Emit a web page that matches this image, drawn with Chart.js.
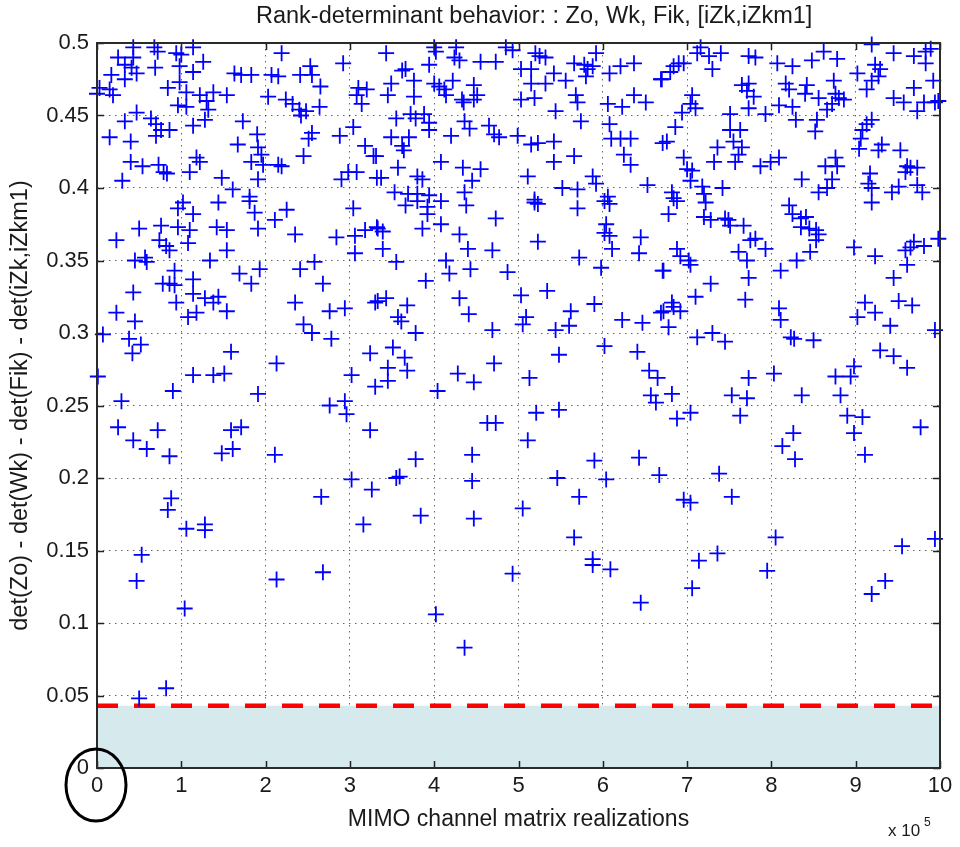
<!DOCTYPE html>
<html>
<head>
<meta charset="utf-8">
<script src="https://cdn.jsdelivr.net/npm/chart.js@4.4.0/dist/chart.umd.min.js"></script>
<style>
html, body { margin: 0; padding: 0; background: #fff; }
#wrap { position: relative; width: 960px; height: 847px; }
</style>
</head>
<body>
<div id="wrap"><canvas id="chart" width="960" height="847"></canvas></div>
<script>
// Realizations are in units of 10^5, values are the determinant gap
const xTickValues = [0, 1, 2, 3, 4, 5, 6, 7, 8, 9, 10];
const yTickValues = [0, 0.05, 0.1, 0.15, 0.2, 0.25, 0.3, 0.35, 0.4, 0.45, 0.5];
const thresholdLevel = 0.043;

// Scatter values
const upperLeft = [
    [0.43,0.497],[0.68,0.497],[0.72,0.494],[1.14,0.497],[0.25,0.49],[0.43,0.49],[0.94,0.493],[1.0,0.492],
    [1.26,0.487],[0.33,0.485],[0.41,0.483],[0.47,0.479],[0.69,0.483],[0.98,0.484],[1.14,0.48],[0.17,0.478],
    [0.33,0.475],[0.98,0.473],[1.63,0.479],[1.71,0.478],[1.83,0.478],[2.07,0.478],[2.19,0.493],[2.15,0.477],
    [2.41,0.478],[2.53,0.484],[2.55,0.478],[2.65,0.47],[2.92,0.486],[0.03,0.469],[0.15,0.468],[0.0,0.465],
    [0.19,0.464],[0.84,0.469],[1.06,0.466],[1.22,0.464],[1.38,0.466],[1.54,0.464],[1.3,0.46],[0.96,0.457],
    [1.06,0.456],[1.32,0.454],[2.03,0.463],[2.24,0.461],[2.32,0.458],[2.4,0.454],[2.48,0.453],[2.64,0.456],
    [2.42,0.45],[3.1,0.469],[3.2,0.468],[3.08,0.464],[3.14,0.458],[0.47,0.452],[0.33,0.446],[0.64,0.448],
    [0.7,0.444],[0.76,0.44],[0.86,0.44],[0.7,0.436],[1.28,0.447],[1.14,0.443],[1.73,0.446],[0.15,0.435],
    [0.4,0.432],[1.67,0.43],[1.9,0.437],[1.91,0.428],[1.95,0.423],[1.83,0.418],[1.97,0.416],[2.15,0.416],
    [2.19,0.415],[2.45,0.422],[2.55,0.438],[2.51,0.434],[2.88,0.436],[3.04,0.442],[3.18,0.429],[3.28,0.422],
    [1.18,0.421],[1.22,0.418],[1.1,0.411],[0.4,0.418],[0.54,0.415],[0.73,0.416],[0.79,0.411],[0.83,0.41],
    [0.3,0.405],[1.48,0.407],[1.61,0.399],[1.81,0.394],[1.91,0.406],[2.9,0.406],[2.98,0.411],[3.08,0.411],
    [3.32,0.407]
];
const upperMid = [
    [3.43,0.493],[4.0,0.497],[4.02,0.494],[4.26,0.497],[4.24,0.49],[3.94,0.485],[4.3,0.488],[4.55,0.487],
    [4.73,0.487],[4.85,0.497],[4.93,0.495],[5.03,0.482],[5.2,0.493],[5.25,0.491],[5.32,0.49],[5.15,0.482],
    [5.42,0.479],[5.66,0.486],[5.78,0.485],[5.82,0.482],[5.88,0.484],[5.8,0.477],[5.92,0.493],[5.56,0.474],
    [5.32,0.472],[5.15,0.472],[6.08,0.479],[6.21,0.484],[6.37,0.486],[6.69,0.475],[3.66,0.482],[3.62,0.481],
    [3.76,0.474],[3.49,0.472],[3.45,0.464],[3.76,0.463],[4.0,0.472],[4.06,0.47],[4.12,0.468],[4.22,0.474],
    [4.14,0.464],[4.47,0.471],[4.51,0.464],[4.33,0.461],[4.35,0.459],[4.47,0.461],[5.03,0.461],[5.19,0.462],
    [5.68,0.464],[5.7,0.459],[5.44,0.453],[5.74,0.446],[6.06,0.458],[6.23,0.456],[6.37,0.464],[6.51,0.459],
    [3.55,0.448],[3.72,0.451],[3.78,0.448],[3.88,0.451],[3.94,0.445],[3.94,0.44],[4.36,0.446],[4.42,0.441],
    [4.2,0.436],[4.65,0.443],[4.71,0.437],[4.77,0.435],[4.99,0.436],[5.15,0.43],[5.23,0.431],[5.42,0.432],
    [5.66,0.422],[5.42,0.418],[6.08,0.444],[6.1,0.434],[6.21,0.434],[6.33,0.434],[6.25,0.423],[6.33,0.416],
    [6.71,0.431],[3.49,0.435],[3.7,0.435],[3.62,0.429],[3.64,0.426],[3.31,0.422],[3.57,0.414],[3.37,0.407],
    [3.8,0.408],[3.86,0.406],[4.08,0.418],[4.34,0.414],[4.55,0.413],[4.45,0.405],[3.53,0.397],[3.69,0.396],
    [3.8,0.396],[3.94,0.395],[4.36,0.397],[5.11,0.408],[5.19,0.392],[5.52,0.4],[5.7,0.399],[5.88,0.408],
    [5.92,0.403],[6.06,0.394],[6.53,0.402]
];
const upperRight = [
    [7.16,0.497],[7.12,0.493],[7.26,0.491],[7.4,0.493],[7.3,0.482],[7.73,0.491],[7.81,0.49],[6.96,0.486],
    [6.84,0.484],[6.8,0.48],[6.9,0.486],[6.7,0.475],[8.07,0.486],[8.25,0.484],[8.48,0.488],[8.62,0.494],
    [8.78,0.489],[9.19,0.499],[9.23,0.485],[9.29,0.482],[9.27,0.477],[9.19,0.474],[9.02,0.479],[9.45,0.493],
    [9.69,0.491],[9.83,0.494],[9.89,0.496],[9.83,0.486],[9.92,0.474],[7.65,0.471],[7.73,0.472],[7.71,0.467],
    [7.79,0.463],[7.73,0.455],[8.17,0.472],[8.21,0.468],[8.42,0.471],[8.4,0.465],[8.56,0.462],[8.74,0.474],
    [8.76,0.465],[8.8,0.462],[8.86,0.461],[8.72,0.458],[8.66,0.454],[9.13,0.468],[9.69,0.469],[9.45,0.462],
    [9.57,0.459],[9.81,0.459],[9.94,0.459],[9.98,0.46],[9.73,0.453],[7.06,0.464],[7.04,0.458],[7.1,0.455],
    [6.94,0.452],[8.09,0.457],[8.25,0.456],[8.29,0.447],[7.93,0.451],[7.51,0.451],[8.54,0.447],[8.52,0.439],
    [6.86,0.442],[6.76,0.432],[7.51,0.44],[7.63,0.44],[7.55,0.432],[7.65,0.428],[7.36,0.428],[7.61,0.423],
    [7.32,0.418],[7.57,0.418],[7.87,0.415],[7.99,0.418],[8.09,0.421],[6.96,0.421],[7.0,0.413],[7.06,0.412],
    [7.04,0.405],[9.08,0.44],[9.13,0.444],[9.19,0.447],[9.06,0.434],[9.04,0.427],[9.31,0.43],[9.27,0.426],
    [9.53,0.426],[8.76,0.421],[8.64,0.415],[8.78,0.415],[8.72,0.406],[8.36,0.406],[8.66,0.4],[8.56,0.397],
    [9.17,0.41],[9.15,0.403],[9.19,0.4],[9.61,0.415],[9.65,0.414],[9.73,0.414],[9.59,0.411],[9.51,0.401],
    [9.43,0.397],[9.73,0.402],[9.79,0.397],[6.82,0.397],[7.18,0.401],[7.2,0.396],[7.42,0.4]
];
const midLeft = [
    [1.02,0.39],[0.96,0.386],[1.14,0.382],[1.44,0.39],[1.81,0.391],[1.87,0.383],[2.25,0.385],[2.11,0.378],
    [3.04,0.386],[0.76,0.374],[0.96,0.373],[1.1,0.371],[1.42,0.373],[1.54,0.371],[0.5,0.372],[1.91,0.372],
    [2.35,0.368],[2.84,0.366],[3.06,0.367],[3.18,0.371],[3.32,0.373],[0.23,0.364],[0.74,0.364],[0.82,0.36],
    [0.86,0.357],[1.08,0.362],[1.54,0.357],[3.06,0.355],[0.45,0.35],[0.57,0.352],[0.59,0.349],[1.34,0.35],
    [0.92,0.343],[0.78,0.334],[0.86,0.334],[0.92,0.333],[1.14,0.337],[1.14,0.327],[1.28,0.324],[1.38,0.321],
    [1.44,0.325],[1.54,0.315],[1.69,0.341],[1.83,0.334],[1.93,0.344],[2.41,0.344],[2.58,0.349],[2.68,0.334],
    [0.43,0.328],[0.94,0.321],[0.23,0.314],[0.45,0.308],[1.08,0.311],[1.18,0.314],[2.35,0.321],[2.45,0.306],
    [2.55,0.3],[2.76,0.315],[2.94,0.317],[3.3,0.321],[0.07,0.299],[0.38,0.296],[0.52,0.292],[0.42,0.286],
    [1.59,0.287],[2.78,0.296],[3.24,0.286]
];
const midMid = [
    [3.66,0.388],[3.8,0.391],[3.92,0.387],[3.92,0.382],[4.08,0.391],[4.38,0.388],[5.19,0.39],[5.23,0.389],
    [5.7,0.386],[6.02,0.391],[6.08,0.389],[3.86,0.372],[4.08,0.375],[3.33,0.372],[3.39,0.37],[4.73,0.379],
    [4.3,0.368],[6.04,0.375],[6.02,0.369],[6.08,0.367],[4.4,0.358],[4.69,0.357],[5.23,0.363],[3.39,0.358],
    [6.11,0.358],[6.45,0.366],[6.43,0.355],[3.55,0.349],[4.14,0.35],[4.18,0.341],[4.43,0.344],[4.87,0.342],
    [5.72,0.352],[5.98,0.345],[6.71,0.343],[3.9,0.336],[3.33,0.322],[3.43,0.324],[3.68,0.319],[4.3,0.324],
    [4.41,0.313],[5.03,0.326],[5.34,0.329],[5.62,0.315],[5.9,0.32],[3.57,0.311],[3.61,0.308],[3.78,0.3],
    [4.69,0.302],[5.09,0.311],[5.05,0.306],[5.44,0.302],[5.6,0.305],[6.23,0.309],[6.47,0.307],[6.69,0.314],
    [3.51,0.29],[3.65,0.283],[6.02,0.291],[5.48,0.285],[6.41,0.287]
];
const midRight = [
    [6.84,0.393],[6.88,0.391],[7.22,0.39],[6.78,0.382],[7.2,0.38],[7.28,0.378],[7.45,0.379],[7.49,0.378],
    [7.51,0.374],[7.67,0.374],[7.75,0.364],[7.81,0.365],[7.93,0.358],[8.21,0.388],[8.25,0.382],[8.35,0.379],
    [8.41,0.38],[8.35,0.373],[8.45,0.372],[8.53,0.371],[8.56,0.368],[8.53,0.364],[9.19,0.39],[8.98,0.359],
    [9.23,0.353],[9.65,0.359],[9.69,0.363],[9.81,0.36],[9.98,0.365],[9.59,0.357],[9.61,0.347],[6.88,0.358],
    [6.92,0.353],[7.02,0.35],[7.04,0.347],[6.72,0.343],[7.61,0.356],[7.71,0.35],[8.46,0.356],[8.3,0.35],
    [8.11,0.343],[7.73,0.338],[7.28,0.334],[9.45,0.338],[7.1,0.325],[7.69,0.323],[6.82,0.321],[6.84,0.318],
    [6.72,0.315],[6.92,0.315],[8.09,0.317],[8.11,0.309],[9.11,0.321],[9.23,0.314],[9.02,0.311],[9.51,0.322],
    [9.67,0.319],[9.41,0.305],[6.78,0.304],[7.12,0.297],[7.3,0.3],[7.45,0.294],[8.23,0.297],[8.27,0.296],
    [8.5,0.295],[9.94,0.302],[9.29,0.288],[9.45,0.284]
];
const lowLeft = [
    [2.13,0.279],[0.01,0.27],[1.14,0.271],[1.38,0.271],[1.51,0.272],[0.9,0.26],[1.91,0.258],[0.29,0.253],
    [2.76,0.25],[2.94,0.253],[2.96,0.244],[3.02,0.271],[3.3,0.263],[0.25,0.235],[0.43,0.226],[0.59,0.22],
    [0.72,0.233],[0.86,0.215],[1.59,0.233],[1.71,0.235],[1.48,0.217],[1.61,0.22],[2.11,0.216],[3.24,0.233],
    [3.02,0.199],[3.26,0.192],[2.66,0.187],[0.88,0.186],[0.84,0.178]
];
const lowMid = [
    [3.45,0.276],[3.68,0.274],[3.45,0.267],[4.04,0.26],[4.28,0.272],[4.47,0.266],[4.71,0.279],[5.13,0.269],
    [5.21,0.245],[5.48,0.247],[4.63,0.238],[4.73,0.238],[5.11,0.226],[6.55,0.274],[6.65,0.269],[6.57,0.257],
    [6.63,0.252],[3.78,0.213],[4.45,0.216],[3.55,0.2],[3.59,0.201],[4.45,0.198],[5.46,0.2],[5.9,0.212],
    [6.04,0.199],[5.72,0.187],[6.43,0.214],[6.67,0.202],[5.05,0.179],[3.84,0.174]
];
const lowRight = [
    [9.61,0.276],[6.82,0.258],[7.73,0.269],[8.03,0.272],[7.53,0.257],[7.71,0.255],[7.63,0.243],[6.88,0.241],
    [7.04,0.245],[8.36,0.257],[8.76,0.27],[8.94,0.27],[8.98,0.277],[8.82,0.257],[8.9,0.243],[9.08,0.242],
    [8.98,0.231],[9.11,0.216],[8.26,0.231],[8.13,0.222],[8.28,0.213],[9.77,0.235],[7.38,0.203],[6.96,0.185],
    [7.04,0.183],[7.53,0.187]
];
const bottomLeft = [
    [1.06,0.165],[1.28,0.168],[1.28,0.164],[3.16,0.168],[0.53,0.147],[0.47,0.129],[1.04,0.11],[2.13,0.13],
    [2.68,0.135],[0.82,0.055],[0.5,0.048]
];
const bottomMid = [
    [4.47,0.172],[5.66,0.159],[5.88,0.144],[5.88,0.14],[6.09,0.137],[4.93,0.134],[6.45,0.114],[4.02,0.106],
    [4.36,0.083]
];
const bottomRight = [
    [8.05,0.159],[7.95,0.136],[7.14,0.143],[7.36,0.148],[7.06,0.124],[9.19,0.12],[9.35,0.129],[9.55,0.153],
    [9.94,0.158]
];

const fontFamily = '"Liberation Sans", Arial, Helvetica, sans-serif';
const textColor = '#1a1a1a';

function toPoints(list) {
    return list.map(p => ({ x: p[0], y: p[1] }));
}

const allPoints = [].concat(
    toPoints(upperLeft), toPoints(upperMid), toPoints(upperRight),
    toPoints(midLeft), toPoints(midMid), toPoints(midRight),
    toPoints(lowLeft), toPoints(lowMid), toPoints(lowRight),
    toPoints(bottomLeft), toPoints(bottomMid), toPoints(bottomRight)
);

// Box, inward ticks, labels and the circled origin, drawn in MATLAB style
const matlabFrame = {
    id: 'matlabFrame',
    afterDraw(chart) {
        const ctx = chart.ctx;
        const area = chart.chartArea;
        const xs = chart.scales.x;
        const ys = chart.scales.y;
        ctx.save();

        // inward ticks
        ctx.strokeStyle = '#222';
        ctx.lineWidth = 1.5;
        ctx.beginPath();
        xTickValues.forEach(v => {
            const px = Math.round(xs.getPixelForValue(v)) + 0.5;
            ctx.moveTo(px, area.bottom); ctx.lineTo(px, area.bottom - 7);
            ctx.moveTo(px, area.top); ctx.lineTo(px, area.top + 7);
        });
        yTickValues.forEach(v => {
            const py = Math.round(ys.getPixelForValue(v)) + 0.5;
            ctx.moveTo(area.left, py); ctx.lineTo(area.left + 7, py);
            ctx.moveTo(area.right, py); ctx.lineTo(area.right - 7, py);
        });
        ctx.stroke();

        // axes box
        ctx.strokeStyle = '#2a2a2a';
        ctx.lineWidth = 2;
        ctx.strokeRect(area.left, area.top, area.right - area.left, area.bottom - area.top);

        // texts
        const midX = (area.left + area.right) / 2;
        ctx.fillStyle = textColor;
        ctx.textBaseline = 'middle';
        ctx.font = '23.5px ' + fontFamily;
        ctx.textAlign = 'left';
        ctx.fillText('Rank-determinant behavior: : Zo, Wk, Fik, [iZk,iZkm1]', 256, 17);
        ctx.textAlign = 'center';
        ctx.font = '23px ' + fontFamily;
        ctx.fillText('MIMO channel matrix realizations', midX, area.bottom + 52);

        ctx.save();
        ctx.translate(21, (area.top + area.bottom) / 2);
        ctx.rotate(-Math.PI / 2);
        ctx.font = '23.5px ' + fontFamily;
        ctx.fillText('det(Zo) - det(Wk) - det(Fik) - det(iZk,iZkm1)', 0, 0);
        ctx.restore();

        // axis exponent
        ctx.textAlign = 'left';
        ctx.textBaseline = 'alphabetic';
        ctx.font = '17px ' + fontFamily;
        ctx.fillText('x 10', area.right - 52, area.bottom + 68);
        ctx.font = '12px ' + fontFamily;
        ctx.fillText('5', area.right - 16, area.bottom + 58);

        // circle around the origin labels
        ctx.strokeStyle = '#000';
        ctx.lineWidth = 3;
        ctx.beginPath();
        ctx.ellipse(area.left - 1, area.bottom + 17, 30, 36, 0, 0, Math.PI * 2);
        ctx.stroke();

        ctx.restore();
    }
};

const ctx = document.getElementById('chart').getContext('2d');
new Chart(ctx, {
    type: 'scatter',
    data: {
        datasets: [{
            label: 'realizations',
            data: allPoints,
            pointStyle: 'cross',
            pointRadius: 8,
            pointBorderWidth: 1.8,
            pointBorderColor: '#0000ff',
            borderColor: '#0000ff',
            pointBackgroundColor: '#0000ff',
            showLine: false,
            clip: false
        }, {
            type: 'line',
            label: 'threshold',
            data: [{ x: 0, y: thresholdLevel }, { x: 10, y: thresholdLevel }],
            borderColor: '#ff0000',
            borderWidth: 4.5,
            borderDash: [21, 16],
            pointRadius: 0,
            fill: 'origin',
            backgroundColor: '#d6eaee',
            tension: 0
        }]
    },
    options: {
        responsive: false,
        animation: false,
        devicePixelRatio: 1,
        layout: { padding: { left: 0, top: 43, right: 20, bottom: 0 } },
        plugins: {
            legend: { display: false },
            tooltip: { enabled: false },
            title: { display: false }
        },
        scales: {
            x: {
                type: 'linear',
                min: 0,
                max: 10,
                afterBuildTicks: scale => { scale.ticks = xTickValues.map(v => ({ value: v })); },
                afterFit: scale => { scale.height = 79; },
                grid: { color: 'rgba(0,0,0,0.6)', lineWidth: 1, drawTicks: false },
                border: { display: false, dash: [1.5, 4.5] },
                ticks: {
                    padding: 5,
                    color: textColor,
                    autoSkip: false,
                    maxRotation: 0,
                    font: { family: fontFamily, size: 22 },
                    callback: v => String(v)
                }
            },
            y: {
                type: 'linear',
                min: 0,
                max: 0.5,
                afterBuildTicks: scale => { scale.ticks = yTickValues.map(v => ({ value: v })); },
                afterFit: scale => { scale.width = 97; },
                grid: { color: 'rgba(0,0,0,0.6)', lineWidth: 1, drawTicks: false },
                border: { display: false, dash: [1.5, 4.5] },
                ticks: {
                    padding: 8,
                    color: textColor,
                    autoSkip: false,
                    font: { family: fontFamily, size: 22 },
                    callback: v => (v === 0 ? '0' : String(parseFloat(v.toFixed(2))))
                }
            }
        }
    },
    plugins: [matlabFrame]
});
</script>
</body>
</html>
